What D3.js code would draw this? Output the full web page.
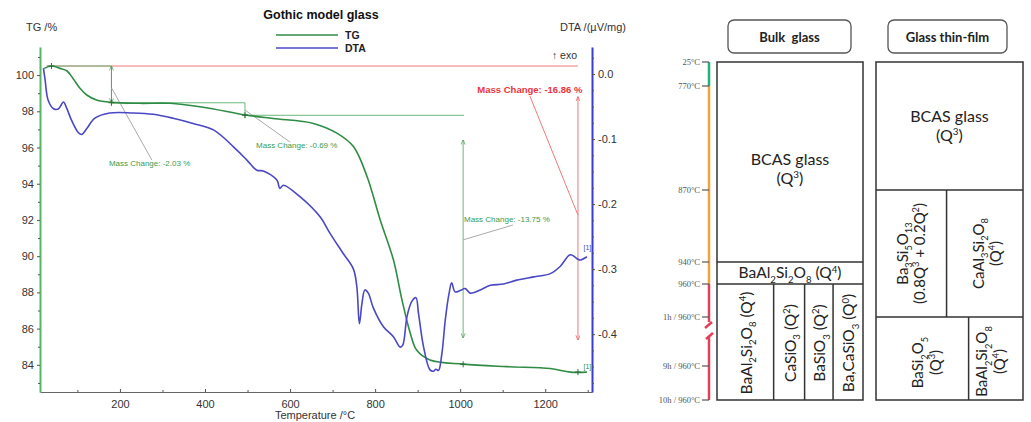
<!DOCTYPE html>
<html>
<head>
<meta charset="utf-8">
<script src="https://cdn.jsdelivr.net/npm/d3@7"></script>
<style>
  body { margin: 0; background: #fff; }
  svg { display: block; }
</style>
</head>
<body>
<div id="chart"></div>
<script>
// TG / DTA curve of the Gothic model glass + crystallisation sketch

// TG curve (temperature in °C, mass in %)
const tgTemp = [22, 39, 59, 75, 90, 106, 122, 145, 180, 247, 318, 388, 467, 494, 560, 655, 711, 749, 781, 812, 843, 863, 882, 898, 929, 1007, 1110, 1212, 1259, 1298];
const tgMass = [100.37, 100.5, 100.37, 100.24, 99.8, 99.27, 98.9, 98.62, 98.49, 98.44, 98.44, 98.25, 97.92, 97.8, 97.6, 97.33, 96.78, 96.05, 94.4, 92.0, 89.8, 87.6, 85.8, 84.8, 84.27, 84.04, 83.9, 83.8, 83.6, 83.6];

// DTA curve (temperature in °C, signal in µV/mg)
const dtaTemp = [20, 24, 31, 43, 55, 67, 75, 86, 102, 110, 122, 141, 176, 231, 278, 325, 372, 420, 467, 498, 522, 537, 569, 576, 584, 624, 671, 694, 725, 749, 757, 763, 769, 776, 784, 796, 820, 843, 859, 865, 875, 886, 896, 902, 914, 929, 937, 943, 949, 957, 965, 974, 980, 988, 1000, 1012, 1024, 1047, 1071, 1102, 1133, 1173, 1212, 1235, 1259, 1275, 1282, 1298];
const dtaSignal = [0.009, -0.009, -0.04, -0.053, -0.054, -0.043, -0.053, -0.071, -0.09, -0.093, -0.084, -0.068, -0.06, -0.06, -0.062, -0.068, -0.076, -0.086, -0.112, -0.132, -0.148, -0.149, -0.163, -0.176, -0.171, -0.189, -0.22, -0.245, -0.276, -0.30, -0.327, -0.384, -0.353, -0.332, -0.337, -0.36, -0.389, -0.404, -0.42, -0.417, -0.373, -0.35, -0.344, -0.368, -0.42, -0.455, -0.457, -0.454, -0.456, -0.43, -0.378, -0.337, -0.321, -0.335, -0.333, -0.33, -0.337, -0.332, -0.325, -0.323, -0.317, -0.312, -0.307, -0.296, -0.278, -0.284, -0.286, -0.281];

// tick values
const tempTicks = [200, 400, 600, 800, 1000, 1200];
const tgTicks = [84, 86, 88, 90, 92, 94, 96, 98, 100];
const dtaTicks = [-0.4, -0.3, -0.2, -0.1, 0.0];

// mass-change steps (plateau levels in %, step temperatures in °C)
const stepLevels = [100.5, 98.47, 97.78, 84.03];
const stepTemps = [28, 180, 494, 1007, 1277];
const massChanges = ["-2.03", "-0.69", "-13.75"];
const totalChange = "-16.86";

// crystallisation sketch
const stageLabels = ["25°C", "770°C", "870°C", "940°C", "960°C", "1h / 960°C", "9h / 960°C", "10h / 960°C"];

const W = 1031, H = 422;
const svg = d3.select("#chart").append("svg").attr("width", W).attr("height", H);
const sans = "'Liberation Sans', Arial, sans-serif";
const cal = "Lato, 'Open Sans', sans-serif";

// ---------------- left chart ----------------
const x = d3.scaleLinear().domain([12, 1310]).range([40, 592]);
const yTG = d3.scaleLinear().domain([82.5, 101.55]).range([392, 47]);
const yDTA = d3.scaleLinear().domain([-0.489, 0.0415]).range([392, 47]);

const green = "#2f8c45", blue = "#4a48c4", annGreen = "#6cb87c", red = "#f07a7a";

const defs = svg.append("defs");
function arrow(id, color) {
  defs.append("marker").attr("id", id).attr("viewBox", "0 0 10 10")
    .attr("refX", 9).attr("refY", 5).attr("markerWidth", 5).attr("markerHeight", 5)
    .attr("orient", "auto-start-reverse")
    .append("path").attr("d", "M0,1 L10,5 L0,9").attr("fill", "none").attr("stroke", color).attr("stroke-width", 1.5);
}
arrow("ag", "#4f9f5f");
arrow("ar", "#e85a5a");

// x axis
const xAxis = svg.append("g").attr("transform", "translate(0,392)")
  .call(d3.axisBottom(x).tickValues(tempTicks).tickFormat(d3.format("d")).tickSize(-3).tickPadding(8).tickSizeOuter(0));
xAxis.select(".domain").attr("stroke", "#666");
svg.append("g").attr("transform", "translate(0,392)")
  .call(d3.axisBottom(x).tickValues([100, 300, 500, 700, 900, 1100, 1300]).tickSize(-2).tickFormat("").tickSizeOuter(0))
  .select(".domain").remove();

// left TG axis
const tgAxis = svg.append("g").attr("transform", "translate(40,0)")
  .call(d3.axisLeft(yTG).tickValues(tgTicks).tickSize(3).tickPadding(3).tickSizeOuter(0));
tgAxis.select(".domain").attr("stroke", "#55b865").attr("stroke-width", 2);
svg.append("g").attr("transform", "translate(40,0)")
  .call(d3.axisLeft(yTG).tickValues(d3.range(83, 102, 2)).tickSize(2).tickFormat(""))
  .select(".domain").remove();

// right DTA axis
const dtaAxis = svg.append("g").attr("transform", "translate(592,0)")
  .call(d3.axisRight(yDTA).tickValues(dtaTicks).tickFormat(d => d3.format(".1f")(d).replace("−", "-")).tickSize(3).tickPadding(3).tickSizeOuter(0));
dtaAxis.select(".domain").attr("stroke", "#3a3ad6").attr("stroke-width", 2);
svg.append("g").attr("transform", "translate(592,0)")
  .call(d3.axisRight(yDTA).tickValues(d3.range(-0.475, 0.03, 0.025)).tickSize(2).tickFormat(""))
  .select(".domain").remove();

svg.selectAll(".tick text").attr("font-family", sans).attr("font-size", 11).attr("fill", "#333");
svg.selectAll(".tick line").attr("stroke", "#555");

// axis titles, title, legend
svg.append("text").attr("x", 26).attr("y", 31).attr("font-family", sans).attr("font-size", 11).attr("fill", "#333").text("TG /%");
svg.append("text").attr("x", 626).attr("y", 31).attr("text-anchor", "end").attr("font-family", sans).attr("font-size", 11).attr("fill", "#333").text("DTA /(µV/mg)");
svg.append("text").attr("x", 315).attr("y", 419).attr("text-anchor", "middle").attr("font-family", sans).attr("font-size", 11).attr("fill", "#333").text("Temperature /°C");
svg.append("text").attr("x", 321).attr("y", 19).attr("text-anchor", "middle").attr("font-family", sans).attr("font-size", 12.5).attr("font-weight", "bold").attr("fill", "#111").text("Gothic model glass");
[["TG", green, 35], ["DTA", blue, 48]].forEach(([name, c, ly]) => {
  svg.append("line").attr("x1", 276).attr("x2", 338).attr("y1", ly).attr("y2", ly).attr("stroke", c).attr("stroke-width", 1.3);
  svg.append("text").attr("x", 345).attr("y", ly + 4).attr("font-family", sans).attr("font-size", 10.5).attr("font-weight", "bold").attr("fill", "#222").text(name);
});
svg.append("text").attr("x", 577).attr("y", 59).attr("text-anchor", "end").attr("font-family", sans).attr("font-size", 10.5).attr("fill", "#333").text("↑ exo");

// annotation lines
function seg(t1, v1, t2, v2, color, w) {
  return svg.append("line").attr("x1", x(t1)).attr("y1", yTG(v1)).attr("x2", x(t2)).attr("y2", yTG(v2))
    .attr("stroke", color).attr("stroke-width", w || 1);
}
seg(stepTemps[0], stepLevels[0], stepTemps[4], stepLevels[0], red);
seg(stepTemps[0], stepLevels[0], stepTemps[1], stepLevels[0], annGreen);
seg(stepTemps[1], stepLevels[0], stepTemps[1], stepLevels[1], "#4f9f5f").attr("marker-start", "url(#ag)").attr("marker-end", "url(#ag)");
seg(stepTemps[1], stepLevels[1], stepTemps[2], stepLevels[1], annGreen);
seg(stepTemps[2], stepLevels[1], stepTemps[2], stepLevels[2] - 0.15, annGreen);
seg(stepTemps[2], stepLevels[2], stepTemps[3] + 2, stepLevels[2], annGreen);
seg(stepTemps[3], 96.41, stepTemps[3], 85.49, annGreen).attr("marker-start", "url(#ag)").attr("marker-end", "url(#ag)");
seg(stepTemps[4], 98.79, stepTemps[4], 85.38, red).attr("marker-start", "url(#ar)").attr("marker-end", "url(#ar)");

// leader lines
seg(180, 99.3, 275, 95.31, "#aaa");
seg(494, 98.07, 600, 96.3, "#aaa");
seg(1007, 90.9, 1124, 91.72, "#aaa");
seg(1164, 98.84, 1277, 92.27, red);

// curves
const line = d3.line().curve(d3.curveCatmullRom.alpha(0.5));
svg.append("path").attr("d", line(tgTemp.map((t, i) => [x(t), yTG(tgMass[i])])))
  .attr("fill", "none").attr("stroke", green).attr("stroke-width", 1.6);
svg.append("path").attr("d", line(dtaTemp.map((t, i) => [x(t), yDTA(dtaSignal[i])])))
  .attr("fill", "none").attr("stroke", blue).attr("stroke-width", 1.6);

// step markers
[[39, stepLevels[0]], [180, stepLevels[1]], [494, stepLevels[2]], [1007, stepLevels[3]], [1277, 83.6]].forEach(([t, v]) => {
  const cx = x(t), cy = yTG(v);
  svg.append("path").attr("d", `M${cx - 3},${cy}H${cx + 3}M${cx},${cy - 3}V${cy + 3}`).attr("stroke", "#2d6d3a").attr("stroke-width", 1);
});

// mass change labels
const labelPos = [[174, 94.98], [520, 95.97], [1009, 91.89]];
massChanges.forEach((m, i) => {
  svg.append("text").attr("x", x(labelPos[i][0])).attr("y", yTG(labelPos[i][1]))
    .attr("font-family", sans).attr("font-size", 8).attr("fill", "#3a9a50")
    .text("Mass Change: " + m + " %");
});
svg.append("text").attr("x", x(1164)).attr("y", yTG(99.0)).attr("text-anchor", "middle")
  .attr("font-family", sans).attr("font-size", 9.5).attr("font-weight", "bold").attr("fill", "#e8343a")
  .text("Mass Change: " + totalChange + " %");

// segment number tags
svg.append("text").attr("x", x(1290)).attr("y", yDTA(-0.27)).attr("font-family", sans).attr("font-size", 7).attr("fill", blue).text("[1]");
svg.append("text").attr("x", x(1290)).attr("y", yTG(83.75)).attr("font-family", sans).attr("font-size", 7).attr("fill", green).text("[1]");

// ---------------- right sketch ----------------
const stage = d3.scaleLinear().domain(d3.range(stageLabels.length)).range([62, 86, 190, 262, 284, 317, 366, 400]);
const axisX = 709;

// coloured temperature axis
[[0, 1, "#1fb27a"], [1, 4, "#f2a23a"]].forEach(([a, b, c]) => {
  svg.append("line").attr("x1", axisX).attr("x2", axisX).attr("y1", stage(a)).attr("y2", stage(b)).attr("stroke", c).attr("stroke-width", 2.5);
});
const redC = "#e2405a";
svg.append("line").attr("x1", axisX).attr("x2", axisX).attr("y1", stage(4)).attr("y2", 322).attr("stroke", redC).attr("stroke-width", 2.5);
svg.append("path").attr("d", `M${axisX - 4},328 L${axisX + 3},322`).attr("stroke", redC).attr("stroke-width", 2.5).attr("fill", "none");
svg.append("path").attr("d", `M${axisX - 3},339 L${axisX + 4},333`).attr("stroke", redC).attr("stroke-width", 2.5).attr("fill", "none");
svg.append("line").attr("x1", axisX).attr("x2", axisX).attr("y1", 337).attr("y2", stage(7)).attr("stroke", redC).attr("stroke-width", 2.5);

stageLabels.forEach((s, i) => {
  svg.append("line").attr("x1", axisX - 7).attr("x2", axisX).attr("y1", stage(i)).attr("y2", stage(i)).attr("stroke", "#555").attr("stroke-width", 1.2);
  svg.append("text").attr("x", axisX - 9).attr("y", stage(i) + 3).attr("text-anchor", "end")
    .attr("font-family", "'Liberation Serif', 'DejaVu Serif', serif").attr("font-size", 8.5).attr("fill", "#555").text(s);
});

// rich text helper: _{..} subscript, ^{..} superscript
function rich(t, str, fs) {
  let shift = 0;
  str.split(/([_^]\{[^}]*\})/).filter(p => p.length).forEach(p => {
    let target = 0, txt = p, size = fs;
    if (p[0] === "_") { target = fs * 0.3; txt = p.slice(2, -1); size = fs * 0.62; }
    else if (p[0] === "^") { target = -fs * 0.38; txt = p.slice(2, -1); size = fs * 0.62; }
    t.append("tspan").attr("dy", target - shift).attr("font-size", size).text(txt);
    shift = target;
  });
}
function label(cx, cy, lines, fs, rot) {
  const g = svg.append("g").attr("transform", `translate(${cx},${cy})` + (rot ? " rotate(-90)" : ""));
  const lh = fs * 1.15;
  lines.forEach((l, i) => {
    const t = g.append("text").attr("x", 0).attr("y", (i - (lines.length - 1) / 2) * lh + fs * 0.35)
      .attr("text-anchor", "middle").attr("font-family", cal).attr("font-size", fs).attr("fill", "#222");
    rich(t, l, fs);
  });
}
function box(x1, y1, x2, y2, sw) {
  svg.append("rect").attr("x", x1).attr("y", y1).attr("width", x2 - x1).attr("height", y2 - y1)
    .attr("fill", "none").attr("stroke", "#333").attr("stroke-width", sw || 1.5);
}
function hl(x1, x2, yy) { svg.append("line").attr("x1", x1).attr("x2", x2).attr("y1", yy).attr("y2", yy).attr("stroke", "#333").attr("stroke-width", 1.5); }
function vl(xx, y1, y2) { svg.append("line").attr("x1", xx).attr("x2", xx).attr("y1", y1).attr("y2", y2).attr("stroke", "#333").attr("stroke-width", 1.5); }

// headers
[["Bulk  glass", 728, 851], ["Glass thin-film", 888, 1007]].forEach(([h, a, b]) => {
  svg.append("rect").attr("x", a).attr("y", 20).attr("width", b - a).attr("height", 33).attr("rx", 6)
    .attr("fill", "#fff").attr("stroke", "#555").attr("stroke-width", 1.3);
  svg.append("text").attr("x", (a + b) / 2).attr("y", 42).attr("text-anchor", "middle").attr("font-family", cal)
    .attr("font-size", 13).attr("font-weight", "bold").attr("fill", "#222").style("white-space", "pre").text(h);
});

// bulk glass panel
const bx = d3.scaleLinear().domain([0, 1]).range([717, 863]);
box(bx(0), stage(0), bx(1), stage(7));
hl(bx(0), bx(1), stage(3));
hl(bx(0), bx(1), stage(4));
const bulkCols = [0, 0.388, 0.6, 0.795, 1];
bulkCols.slice(1, -1).forEach(c => vl(bx(c), stage(4), stage(7)));
label(bx(0.5), (stage(0) + stage(3)) / 2 + 7, ["BCAS glass", "(Q^{3})"], 16, false);
label(bx(0.5), (stage(3) + stage(4)) / 2, ["BaAl_{2}Si_{2}O_{8} (Q^{4})"], 15.5, false);
["BaAl_{2}Si_{2}O_{8} (Q^{4})", "CaSiO_{3} (Q^{2})", "BaSiO_{3} (Q^{2})", "Ba,CaSiO_{3} (Q^{0})"].forEach((s, i) => {
  label(bx((bulkCols[i] + bulkCols[i + 1]) / 2) + 1, (stage(4) + stage(7)) / 2 + 1, [s], 15.5, true);
});

// thin film panel
const fx = d3.scaleLinear().domain([0, 1]).range([876, 1023]);
box(fx(0), stage(0), fx(1), stage(7));
hl(fx(0), fx(1), stage(2));
hl(fx(0), fx(1), stage(5));
vl(fx(0.48), stage(2), stage(5));
vl(fx(0.63), stage(5), stage(7));
label(fx(0.5), (stage(0) + stage(2)) / 2, ["BCAS glass", "(Q^{3})"], 16, false);
label(fx(0.24), (stage(2) + stage(5)) / 2, ["Ba_{3}Si_{5}O_{13}", "(0.8Q^{3} + 0.2Q^{2})"], 15, true);
label(fx(0.755), (stage(2) + stage(5)) / 2, ["CaAl_{3}Si_{2}O_{8}", "(Q^{4})"], 15, true);
label(fx(0.345), (stage(5) + stage(7)) / 2 + 4, ["BaSi_{2}O_{5}", "(Q^{3})"], 15, true);
label(fx(0.78), (stage(5) + stage(7)) / 2 + 3, ["BaAl_{2}Si_{2}O_{8}", "(Q^{4})"], 15, true);
</script>
</body>
</html>
